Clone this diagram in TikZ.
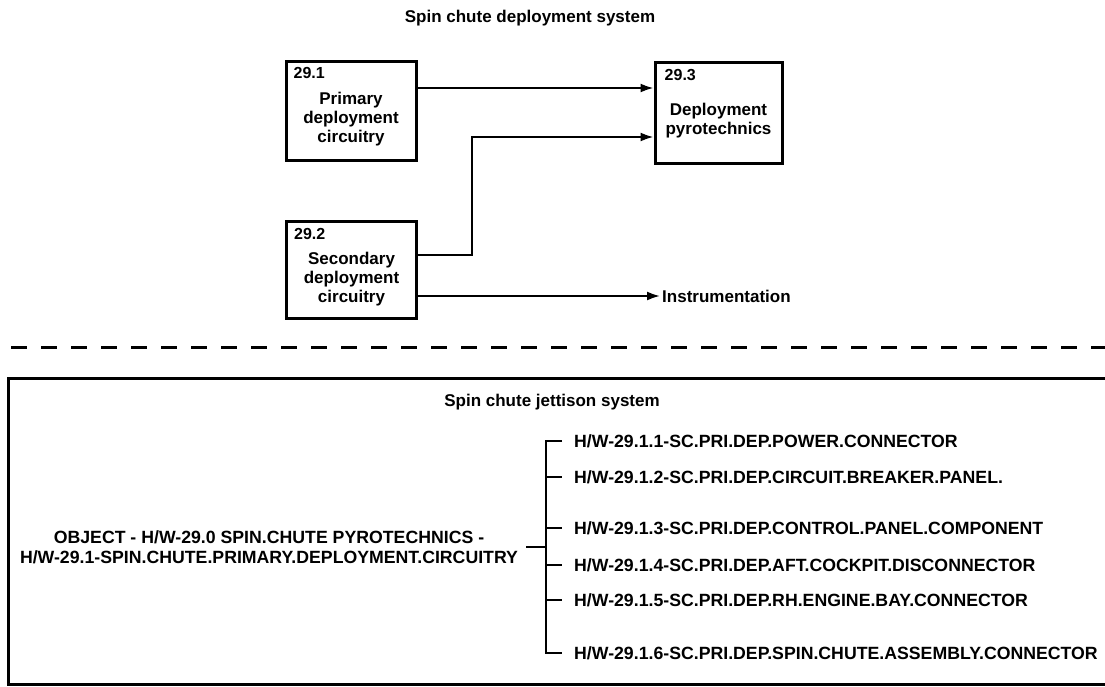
\documentclass[tikz,border=0pt]{standalone}
\usepackage{fontspec}
\setmainfont{Liberation Sans}
\usepackage{tikz}
\usetikzlibrary{arrows.meta, calc}
\tikzset{next/.style={-{Latex[length=13pt, width=9pt]}, line width=2pt}}
\tikzset{blk/.style={draw, line width=3pt, inner sep=0pt}}
\tikzset{num/.style={anchor=west, inner sep=2pt, font=\bfseries\fontsize{16}{19}\selectfont}}
\tikzset{txt/.style={align=center, inner sep=0pt, font=\bfseries\fontsize{17}{19}\selectfont}}
\tikzset{item/.style={anchor=west, inner sep=4pt, font=\bfseries\fontsize{17.7}{20}\selectfont}}
\tikzset{tree/.style={line width=2.4pt}}
\newcommand{\twig}{8pt}
\newcommand{\boxw}{130pt}

\begin{document}
\begin{tikzpicture}[x=1pt, y=-1pt]
  \useasboundingbox (0,0) rectangle (1105,686);

  % --- deployment system ---
  \node[txt] (dtitle) at (530,18) {Spin chute deployment system};

  \node[blk, minimum width=\boxw, minimum height=99pt] (prim) at (351,110.5) {};
  \node[num] (nprim) at ([xshift=7pt, yshift=-13pt]prim.north west) {29.1};
  \node[txt] (tprim) at ([yshift=-8.5pt]prim.center) {Primary\\deployment\\circuitry};

  \node[blk, minimum width=127pt, minimum height=101pt] (pyro) at (718.5,112.5) {};
  \node[num] (npyro) at ([xshift=9pt, yshift=-14pt]pyro.north west) {29.3};
  \node[txt] (tpyro) at ([yshift=-8pt]pyro.center) {Deployment\\pyrotechnics};

  \node[blk, minimum width=\boxw, minimum height=97pt] (sec) at (351.5,269.5) {};
  \node[num] (nsec) at ([xshift=7pt, yshift=-14pt]sec.north west) {29.2};
  \node[txt] (tsec) at ([yshift=-9.5pt]sec.center) {Secondary\\deployment\\circuitry};

  \node[txt, anchor=west, inner sep=2pt] (instr) at (660,296) {Instrumentation};

  \coordinate (bend) at (472,137);
  \draw[next] ([yshift=22.5pt]prim.east) -- ([yshift=24.5pt]pyro.west);
  \draw[next] ([yshift=14.5pt]sec.east) -| (bend) -- (bend -| pyro.west);
  \draw[next] ([yshift=-26.5pt]sec.east) -- (instr.west);

  % --- separator ---
  \draw[line width=3pt, dash pattern=on 16pt off 14pt] (11,347) -- (1110,347);

  % --- jettison system ---
  \draw[line width=3pt] (1110,378) -- (8,378) -- (8,684) -- (1110,684);
  \node[txt] (jtitle) at (552,402) {Spin chute jettison system};

  \node[item, anchor=center, align=center, inner sep=8pt] (obj) at (269,547)
    {OBJECT - H/W-29.0 SPIN.CHUTE PYROTECHNICS -\\H/W-29.1-SPIN.CHUTE.PRIMARY.DEPLOYMENT.CIRCUITRY};
  \coordinate (fork) at (546,547);

  \node[item] (i1) at (570,441) {H/W-29.1.1-SC.PRI.DEP.POWER.CONNECTOR};
  \node[item] (i2) at (570,477) {H/W-29.1.2-SC.PRI.DEP.CIRCUIT.BREAKER.PANEL.};
  \node[item] (i3) at (570,528) {H/W-29.1.3-SC.PRI.DEP.CONTROL.PANEL.COMPONENT};
  \node[item] (i4) at (570,565) {H/W-29.1.4-SC.PRI.DEP.AFT.COCKPIT.DISCONNECTOR};
  \node[item] (i5) at (570,600) {H/W-29.1.5-SC.PRI.DEP.RH.ENGINE.BAY.CONNECTOR};
  \node[item] (i6) at (570,653) {H/W-29.1.6-SC.PRI.DEP.SPIN.CHUTE.ASSEMBLY.CONNECTOR};

  \draw[tree] (obj.east) -- (fork);
  \draw[tree] ([xshift=-\twig]i1.west) -| (fork) |- ([xshift=-\twig]i6.west);
  \foreach \k in {2,...,5}
    \draw[tree] (fork |- i\k.west) -- ([xshift=-\twig]i\k.west);

\end{tikzpicture}
\end{document}
